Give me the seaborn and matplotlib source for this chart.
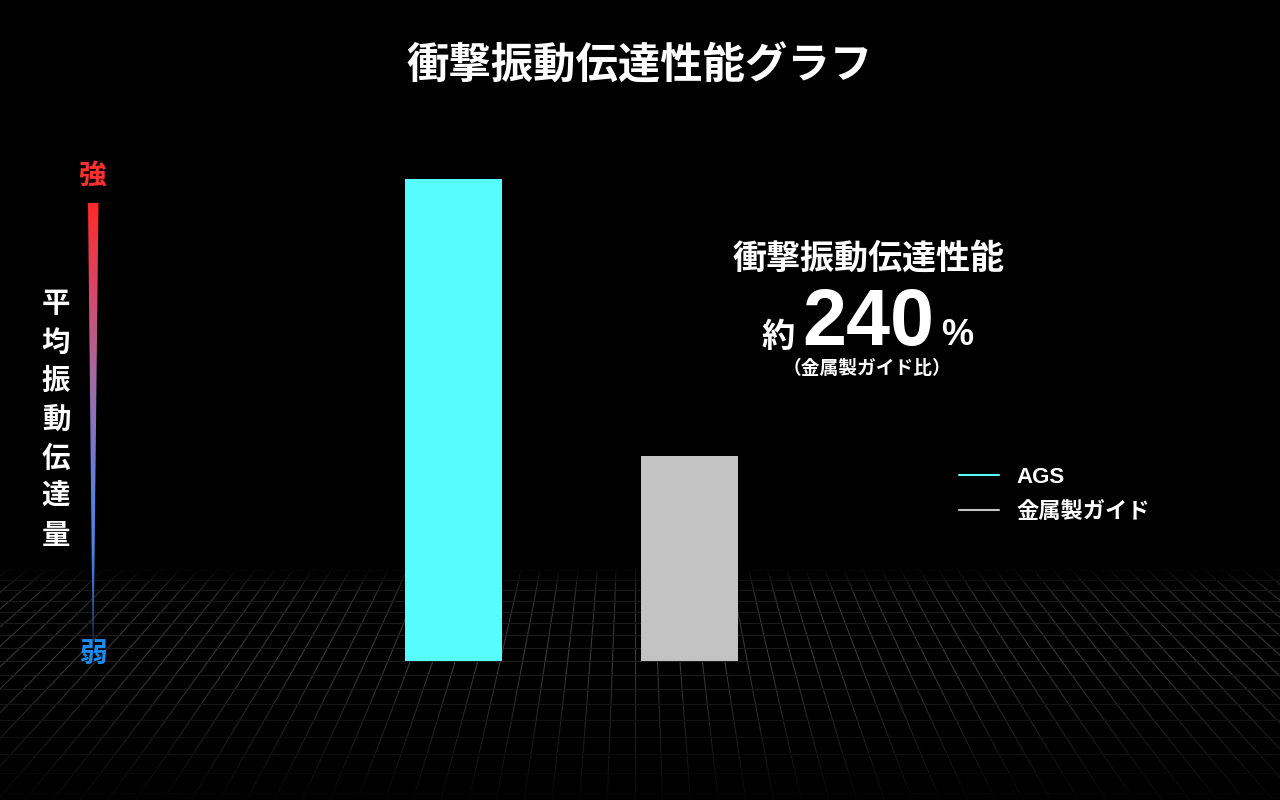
import numpy as np
import pandas as pd
import matplotlib.pyplot as plt
import seaborn as sns
from matplotlib.colors import LinearSegmentedColormap
from matplotlib.lines import Line2D
from matplotlib.patches import Polygon

# data (relative transmission, metal guide = 100)
categories = ["AGS", "金属製ガイド"]
values = [235, 100]
bar_colors = ["#57fcff", "#c3c3c3"]

title = "衝撃振動伝達性能グラフ"
ylabel = "平均振動伝達量"
strong_label = "強"
weak_label = "弱"
callout_head = "衝撃振動伝達性能"
callout_prefix = "約"
callout_number = "240"
callout_unit = "%"
callout_note = "（金属製ガイド比）"

sns.set_theme(style="dark")
plt.rcParams['font.family'] = ['Noto Sans CJK JP', 'DejaVu Sans']

fig = plt.figure(figsize=(12.8, 8), dpi=100, facecolor="black")

# background layer in pixel coordinates (floor grid, scale bar, texts)
bg = fig.add_axes([0, 0, 1, 1], zorder=0)
bg.set_xlim(0, 1280)
bg.set_ylim(800, 0)
bg.set_facecolor("black")
bg.axis("off")

# perspective floor grid
vx, vy = 635, 70
for i in range(-60, 61):
    y_a, y_b = 565, 800
    x_a = vx + i * 19 * (y_a - vy) / 500
    x_b = vx + i * 19 * (y_b - vy) / 500
    bg.plot([x_a, x_b], [y_a, y_b], color="#525252", lw=0.8, zorder=1)
for m in range(36, 53):
    y = vy + 26010 / m
    bg.plot([0, 1280], [y, y], color="#2a2a2a", lw=0.8, zorder=1)

# fade the floor towards the horizon and the bottom edge
ys = np.arange(800)
alpha = np.interp(ys, [0, 565, 592, 660, 730, 800], [1, 1, 0.4, 0.28, 0.6, 0.93])
fade = np.zeros((800, 1, 4))
fade[:, 0, 3] = alpha
bg.imshow(fade, extent=(0, 1280, 800, 0), aspect="auto", zorder=2,
          interpolation="bilinear")

# tapered gradient scale bar
grad_cmap = LinearSegmentedColormap.from_list(
    "scale", ["#ff2a2a", "#d44a6a", "#a46aa6", "#6f7ad6", "#4a84f0", "#1c3c7a"])
grad = np.linspace(0, 1, 256).reshape(-1, 1)
im = bg.imshow(grad, cmap=grad_cmap, extent=(88, 98.5, 640, 203),
               aspect="auto", zorder=3)
tri = Polygon([(88, 203), (98.5, 203), (93.6, 640), (92.6, 640)],
              closed=True, transform=bg.transData)
im.set_clip_path(tri)

bg.text(93, 176, strong_label, color="#ff3030", fontsize=20, fontweight="bold",
        ha="center", va="center", zorder=4)
bg.text(93, 655, weak_label, color="#1a8cf0", fontsize=20, fontweight="bold",
        ha="center", va="center", zorder=4)
bg.text(56, 420, "\n".join(ylabel), color="white", fontsize=20.5,
        fontweight="bold", ha="center", va="center", linespacing=1.48, zorder=4)

bg.text(640, 67, title, color="white", fontsize=30.5, fontweight="bold",
        ha="center", va="center", zorder=4)

# callout
bg.text(869, 258, callout_head, color="white", fontsize=24.5, fontweight="bold",
        ha="center", va="center", zorder=4)
bg.text(762, 347, callout_prefix, color="white", fontsize=24, fontweight="bold",
        ha="left", va="baseline", zorder=4)
bg.text(802, 345, callout_number, color="white", fontsize=57, fontweight="bold",
        family=["Liberation Sans", "DejaVu Sans"], ha="left", va="baseline", zorder=4)
bg.text(941, 345, callout_unit, color="white", fontsize=26, fontweight="bold",
        family=["Liberation Sans", "DejaVu Sans"], ha="left", va="baseline", zorder=4)
bg.text(867, 369, callout_note, color="white", fontsize=13.5, fontweight="bold",
        ha="center", va="center", zorder=4)

# bars
df = pd.DataFrame({"guide": categories, "value": values})
ax = fig.add_axes([300 / 1280, 139 / 800, 600 / 1280, 561 / 800], zorder=1)
ax.patch.set_alpha(0)
sns.barplot(data=df, x="guide", y="value", hue="guide", palette=bar_colors,
            saturation=1, width=0.41, legend=False, linewidth=0, ax=ax)
ax.set_xlim(-0.650, 1.892)
ax.set_ylim(0, 273.7)
ax.axis("off")

# legend
handles = [Line2D([0], [0], color=c, lw=1.5) for c in bar_colors]
leg = ax.legend(handles, categories, loc="upper left",
                bbox_to_anchor=(948 / 1280, 1 - 456 / 800),
                bbox_transform=fig.transFigure, frameon=False, borderpad=0,
                handlelength=1.8, handletextpad=0.8, labelspacing=0.62,
                prop={"size": 16, "weight": "bold",
                      "family": ["Liberation Sans", "Noto Sans CJK JP"]})
for t in leg.get_texts():
    t.set_color("white")

fig.savefig("out.png", dpi=100, facecolor="black")
